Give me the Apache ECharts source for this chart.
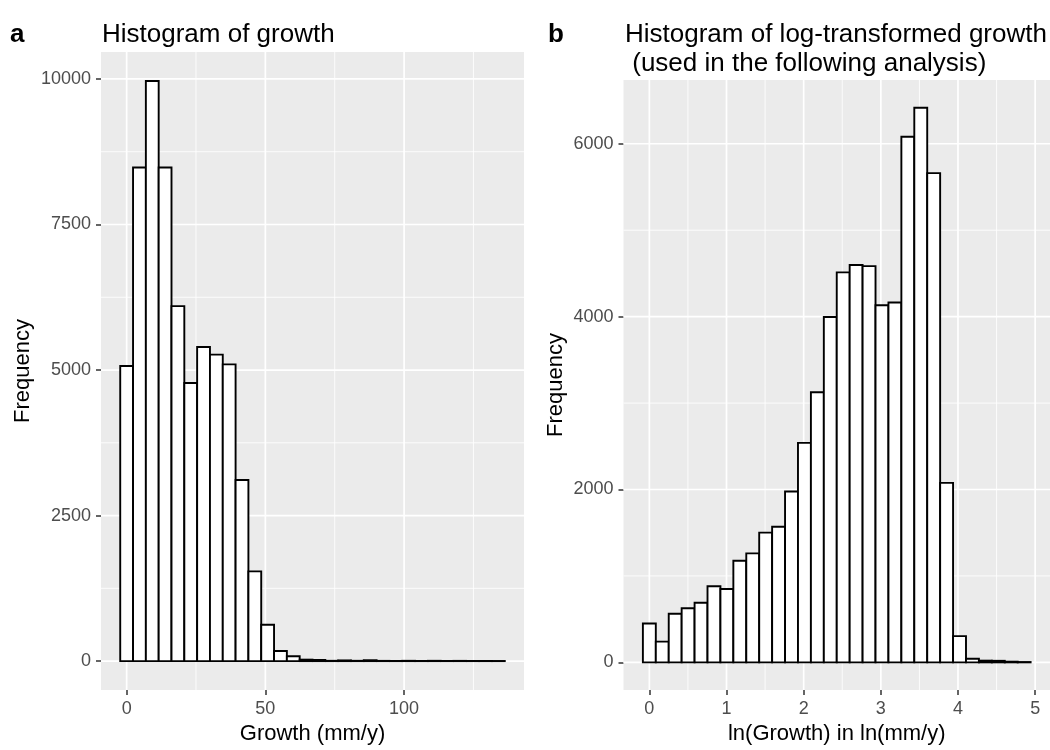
<!DOCTYPE html>
<html>
<head>
<meta charset="utf-8">
<script src="https://cdn.jsdelivr.net/npm/echarts@6/dist/echarts.min.js"></script>
<style>
html,body{margin:0;padding:0;background:#fff;}
#chart{width:1050px;height:750px;}
</style>
</head>
<body>
<div id="chart"></div>
<script>
// ---- Data ----
// Panel a: histogram of growth (mm/y), 30 bins, first bin centred at 0
const growthBinWidth = 4.62;
const growthFirstCenter = 0;
const growthCounts = [5069, 8479, 9965, 8479, 6097, 4778, 5396, 5264, 5097, 3111,
                      1542, 625, 174, 83, 25, 20, 5, 12, 5, 15,
                      4, 3, 5, 3, 5, 3, 4, 3, 3, 2];
// Panel b: histogram of ln(growth), 30 bins, first bin centred at 0
const logBinWidth = 0.1675;
const logFirstCenter = 0;
const logCounts = [449, 240, 562, 626, 689, 880, 848, 1175, 1261, 1501,
                   1569, 1977, 2540, 3125, 3995, 4512, 4598, 4585, 4131, 4163,
                   6081, 6417, 5660, 2077, 304, 41, 20, 18, 8, 4];

// Tick labels / grid breaks
const growthXTicks = [0, 50, 100];
const growthXMinor = [25, 75, 125];
const growthYTicks = [0, 2500, 5000, 7500, 10000];
const growthYMinor = [1250, 3750, 6250, 8750];
const logXTicks = [0, 1, 2, 3, 4, 5];
const logXMinor = [0.5, 1.5, 2.5, 3.5, 4.5];
const logYTicks = [0, 2000, 4000, 6000];
const logYMinor = [1000, 3000, 5000];

// ---- Helpers ----
function binsOf(counts, width, firstCenter) {
  return counts.map((c, i) => {
    const x0 = firstCenter - width / 2 + i * width;
    return [x0, x0 + width, c];
  });
}
function xRange(counts, width, firstCenter) {
  const lo = firstCenter - width / 2;
  const hi = lo + counts.length * width;
  const pad = (hi - lo) * 0.05;
  return [lo - pad, hi + pad];
}
function yRange(counts) {
  const m = Math.max(...counts);
  return [-0.05 * m, 1.05 * m];
}
function gridData(xMaj, xMin, yMaj, yMin) {
  const d = [];
  xMin.forEach(v => d.push([v, 0, 0]));
  yMin.forEach(v => d.push([v, 1, 0]));
  xMaj.forEach(v => d.push([v, 0, 1]));
  yMaj.forEach(v => d.push([v, 1, 1]));
  return d;
}
function gridRender(params, api) {
  const cs = params.coordSys;
  const v = api.value(0), o = api.value(1), major = api.value(2);
  let shape;
  if (o === 0) {
    const x = api.coord([v, 0])[0];
    shape = {x1: x, y1: cs.y, x2: x, y2: cs.y + cs.height};
  } else {
    const y = api.coord([0, v])[1];
    shape = {x1: cs.x, y1: y, x2: cs.x + cs.width, y2: y};
  }
  return {type: 'line', shape: shape, style: {stroke: '#ffffff', lineWidth: major ? 1.7 : 0.85}};
}
function barRender(params, api) {
  const p0 = api.coord([api.value(0), 0]);
  const p1 = api.coord([api.value(1), api.value(2)]);
  return {
    type: 'rect',
    shape: {x: p0[0], y: p1[1], width: p1[0] - p0[0], height: p0[1] - p1[1]},
    style: {fill: '#ffffff', stroke: '#000000', lineWidth: 1.9}
  };
}

const FONT = '"Liberation Sans", Arial, Helvetica, sans-serif';
const gxr = xRange(growthCounts, growthBinWidth, growthFirstCenter);
const lxr = xRange(logCounts, logBinWidth, logFirstCenter);
const gyr = yRange(growthCounts);
const lyr = yRange(logCounts);

function xAxisCfg(idx, range, ticks, name) {
  return {
    type: 'value', gridIndex: idx, min: range[0], max: range[1],
    axisLine: {show: false, onZero: false},
    splitLine: {show: false},
    axisTick: {show: true, customValues: ticks, length: 5, lineStyle: {color: '#333333', width: 1.5}},
    axisLabel: {customValues: ticks, color: '#4d4d4d', fontSize: 18, fontFamily: FONT, margin: 10,
                formatter: v => String(v)},
    name: name, nameLocation: 'middle', nameGap: 32,
    nameTextStyle: {color: '#000000', fontSize: 22, fontFamily: FONT, verticalAlign: 'top'}
  };
}
function yAxisCfg(idx, range, ticks, gap) {
  return {
    type: 'value', gridIndex: idx, min: range[0], max: range[1],
    axisLine: {show: false, onZero: false},
    splitLine: {show: false},
    axisTick: {show: true, customValues: ticks, length: 5, lineStyle: {color: '#333333', width: 1.5}},
    axisLabel: {customValues: ticks, color: '#4d4d4d', fontSize: 18, fontFamily: FONT, margin: 10,
                formatter: v => String(v)},
    name: 'Frequency', nameLocation: 'middle', nameGap: gap, nameRotate: 90,
    nameTextStyle: {color: '#000000', fontSize: 22, fontFamily: FONT}
  };
}

const chart = echarts.init(document.getElementById('chart'), null, {renderer: 'canvas'});
chart.setOption({
  backgroundColor: '#ffffff',
  animation: false,
  title: [
    {text: 'a', left: 10, top: 22, padding: 0, textStyle: {fontSize: 26, fontWeight: 'bold', fontFamily: FONT, color: '#000'}},
    {text: 'Histogram of growth', left: 102, top: 22, padding: 0, textStyle: {fontSize: 26, fontWeight: 'normal', fontFamily: FONT, color: '#000'}},
    {text: 'b', left: 548, top: 22, padding: 0, textStyle: {fontSize: 26, fontWeight: 'bold', fontFamily: FONT, color: '#000'}},
    {text: 'Histogram of log-transformed growth\n (used in the following analysis)', left: 625, top: 20.5, padding: 0,
     textStyle: {fontSize: 26, fontWeight: 'normal', fontFamily: FONT, color: '#000', lineHeight: 29}}
  ],
  grid: [
    {left: 101, top: 52, width: 423, height: 643, show: true, backgroundColor: '#ebebeb', borderWidth: 0, containLabel: false},
    {left: 623.5, top: 80, width: 427, height: 615, show: true, backgroundColor: '#ebebeb', borderWidth: 0, containLabel: false}
  ],
  xAxis: [
    xAxisCfg(0, gxr, growthXTicks, 'Growth (mm/y)'),
    xAxisCfg(1, lxr, logXTicks, 'ln(Growth) in ln(mm/y)')
  ],
  yAxis: [
    yAxisCfg(0, gyr, growthYTicks, 67),
    yAxisCfg(1, lyr, logYTicks, 57)
  ],
  series: [
    {type: 'custom', xAxisIndex: 0, yAxisIndex: 0, renderItem: gridRender, silent: true, z: 1,
     data: gridData(growthXTicks, growthXMinor, growthYTicks, growthYMinor), clip: true},
    {type: 'custom', xAxisIndex: 1, yAxisIndex: 1, renderItem: gridRender, silent: true, z: 1,
     data: gridData(logXTicks, logXMinor, logYTicks, logYMinor), clip: true},
    {type: 'custom', xAxisIndex: 0, yAxisIndex: 0, renderItem: barRender, z: 2,
     encode: {x: [0, 1], y: 2}, data: binsOf(growthCounts, growthBinWidth, growthFirstCenter)},
    {type: 'custom', xAxisIndex: 1, yAxisIndex: 1, renderItem: barRender, z: 2,
     encode: {x: [0, 1], y: 2}, data: binsOf(logCounts, logBinWidth, logFirstCenter)}
  ]
});
</script>
</body>
</html>
